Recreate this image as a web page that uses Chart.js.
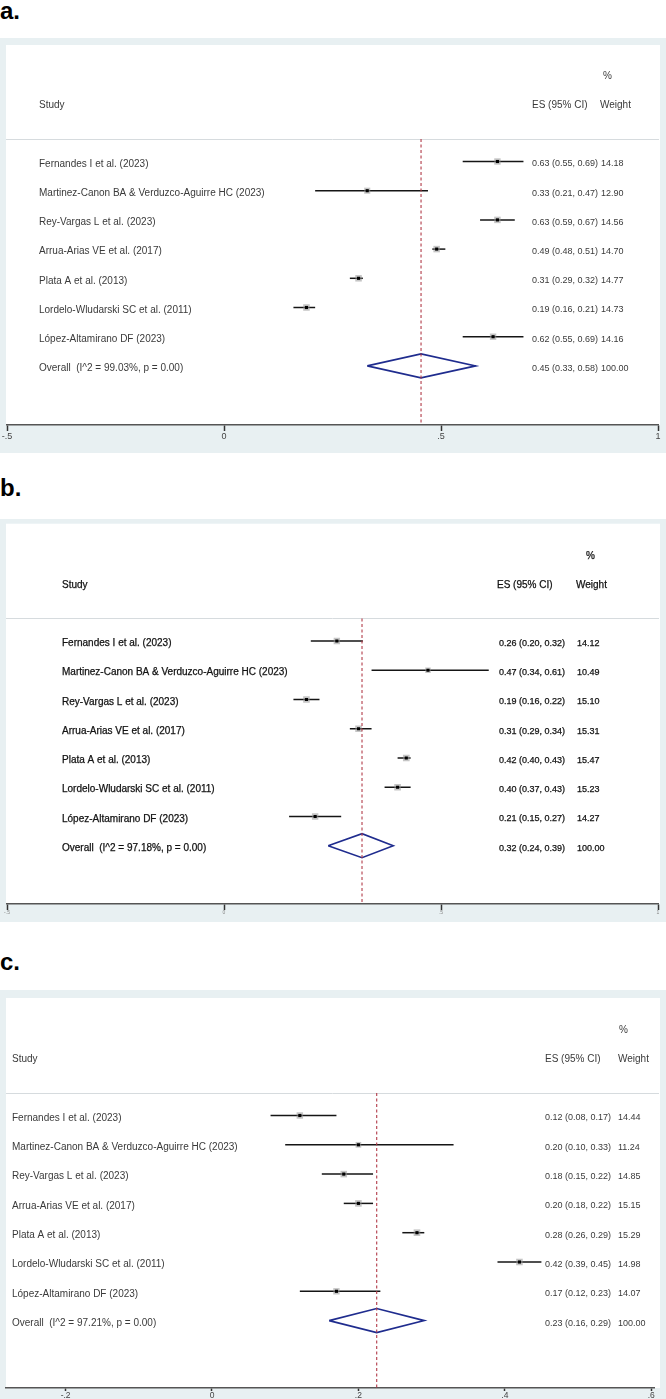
<!DOCTYPE html>
<html>
<head>
<meta charset="utf-8">
<script src="https://cdn.jsdelivr.net/npm/chart.js@4.4.0/dist/chart.umd.min.js"></script>
<style>
  body { margin: 0; width: 666px; height: 1399px; overflow: hidden; background: #fff; position: relative;
         font-family: "Liberation Sans", Arial, sans-serif; }
  .tag { position: absolute; left: 0; font-weight: bold; font-size: 24px; line-height: 24px; color: #000; }
  canvas { position: absolute; left: 0; background: #e8f0f2; }
</style>
</head>
<body>
<div class="tag" style="top:-1px">a.</div>
<canvas id="plotA"></canvas>
<div class="tag" style="top:476px">b.</div>
<canvas id="plotB"></canvas>
<div class="tag" style="top:950px">c.</div>
<canvas id="plotC"></canvas>

<script>
// Study labels (same order in all three panels)
const studies = [
  'Fernandes I et al. (2023)',
  'Martinez-Canon BA & Verduzco-Aguirre HC (2023)',
  'Rey-Vargas L et al. (2023)',
  'Arrua-Arias VE et al. (2017)',
  'Plata A et al. (2013)',
  'Lordelo-Wludarski SC et al. (2011)',
  'López-Altamirano DF (2023)'
];

// Panel a
const esA = [0.63, 0.33, 0.63, 0.49, 0.31, 0.19, 0.62];
const loA = [0.55, 0.21, 0.59, 0.48, 0.29, 0.16, 0.55];
const hiA = [0.69, 0.47, 0.67, 0.51, 0.32, 0.21, 0.69];
const weightA = [14.18, 12.90, 14.56, 14.70, 14.77, 14.73, 14.16];
const overallA = [0.454, 0.33, 0.58];
const hetA = 'I^2 = 99.03%, p = 0.00';

// Panel b
const esB = [0.26, 0.47, 0.19, 0.31, 0.42, 0.40, 0.21];
const loB = [0.20, 0.34, 0.16, 0.29, 0.40, 0.37, 0.15];
const hiB = [0.32, 0.61, 0.22, 0.34, 0.43, 0.43, 0.27];
const weightB = [14.12, 10.49, 15.10, 15.31, 15.47, 15.23, 14.27];
const overallB = [0.318, 0.24, 0.39];
const hetB = 'I^2 = 97.18%, p = 0.00';

// Panel c
const esC = [0.12, 0.20, 0.18, 0.20, 0.28, 0.42, 0.17];
const loC = [0.08, 0.10, 0.15, 0.18, 0.26, 0.39, 0.12];
const hiC = [0.17, 0.33, 0.22, 0.22, 0.29, 0.45, 0.23];
const weightC = [14.44, 11.24, 14.85, 15.15, 15.29, 14.98, 14.07];
const overallC = [0.225, 0.16, 0.29];
const hetC = 'I^2 = 97.21%, p = 0.00';

// Axis ticks
const tickValsAB = [-0.5, 0, 0.5, 1];
const tickLabelsAB = ['-.5', '0', '.5', '1'];
const tickValsC = [-0.2, 0, 0.2, 0.4, 0.6];
const tickLabelsC = ['-.2', '0', '.2', '.4', '.6'];

// Layout / style of each panel (page pixels)
const panels = [
  { id: 'plotA', es: esA, lo: loA, hi: hiA, w: weightA, overall: overallA, het: hetA,
    ticks: tickValsAB, tickLabels: tickLabelsAB, tickFont: 9, tickLen: 6, tickInk: '#444',
    frameTop: 38, frameBottom: 453, plotTop: 45, axisY: 425, row0: 161.5, step: 29.2,
    left: 7, right: 658, xMin: -0.5, xMax: 1,
    cols: { study: 39, es: 532, w: 601, pct: 603, esHead: 532, wHead: 600 }, ink: '#3a3a3a', heavy: 0 },
  { id: 'plotB', es: esB, lo: loB, hi: hiB, w: weightB, overall: overallB, het: hetB,
    ticks: tickValsAB, tickLabels: tickLabelsAB, tickFont: 5, tickLen: 6, tickInk: '#888',
    frameTop: 519, frameBottom: 922, plotTop: 523, axisY: 904, row0: 640.5, step: 29.3,
    left: 7, right: 658, xMin: -0.5, xMax: 1,
    cols: { study: 62, es: 499, w: 577, pct: 586, esHead: 497, wHead: 576 }, ink: '#111', heavy: 0.25 },
  { id: 'plotC', es: esC, lo: loC, hi: hiC, w: weightC, overall: overallC, het: hetC,
    ticks: tickValsC, tickLabels: tickLabelsC, tickFont: 8.5, tickLen: 3, tickInk: '#444',
    frameTop: 990, frameBottom: 1399, plotTop: 998, axisY: 1388, row0: 1115.5, step: 29.3,
    left: 6, right: 654, xMin: -0.2814, xMax: 0.6038,
    cols: { study: 12, es: 545, w: 618, pct: 619, esHead: 545, wHead: 618 }, ink: '#3a3a3a', heavy: 0 }
];

const SEP_ROW = -0.77;
const fmt = v => v.toFixed(2);

// Draws the white plot region, header rule and all table text
function forestPlugin(p) {
  return {
    id: 'forest_' + p.id,
    beforeDraw(chart) {
      const ctx = chart.ctx, a = chart.chartArea, y = chart.scales.y;
      ctx.save();
      ctx.fillStyle = '#fff';
      ctx.fillRect(6, a.top, chart.width - 12, a.bottom - a.top);
      const ys = Math.round(y.getPixelForValue(SEP_ROW)) + 0.5;
      ctx.strokeStyle = '#d6dbde';
      ctx.lineWidth = 1;
      ctx.beginPath();
      ctx.moveTo(6, ys);
      ctx.lineTo(chart.width - 7, ys);
      ctx.stroke();
      ctx.restore();
    },
    afterDraw(chart) {
      const ctx = chart.ctx, y = chart.scales.y, c = p.cols;
      ctx.save();
      ctx.fillStyle = p.ink;
      ctx.textBaseline = 'middle';
      const put = (txt, x, row, size) => {
        const py = y.getPixelForValue(row) + 2.5;
        ctx.font = size + 'px "Liberation Sans", Arial, sans-serif';
        if (p.heavy) {
          ctx.lineWidth = p.heavy;
          ctx.strokeStyle = p.ink;
          ctx.strokeText(txt, x, py);
        }
        ctx.fillText(txt, x, py);
      };
      put('%', c.pct, -3, 10);
      put('Study', c.study, -2, 10);
      put('ES (95% CI)', c.esHead, -2, 10);
      put('Weight', c.wHead, -2, 10);
      studies.forEach((s, i) => {
        put(s, c.study, i, 10);
        put(fmt(p.es[i]) + ' (' + fmt(p.lo[i]) + ', ' + fmt(p.hi[i]) + ')', c.es, i, 9);
        put(fmt(p.w[i]), c.w, i, 9);
      });
      const [oEs, oLo, oHi] = p.overall;
      const oRow = studies.length;
      put('Overall  (' + p.het + ')', c.study, oRow, 10);
      put(fmt(oEs) + ' (' + fmt(oLo) + ', ' + fmt(oHi) + ')', c.es, oRow, 9);
      put('100.00', c.w, oRow, 9);
      ctx.restore();
    }
  };
}

function buildChart(p) {
  const canvas = document.getElementById(p.id);
  const height = p.frameBottom - p.frameTop;
  canvas.width = 666;
  canvas.height = height;
  canvas.style.top = p.frameTop + 'px';

  const yMin = (p.plotTop - p.row0) / p.step;
  const yMax = (p.axisY - p.row0) / p.step;
  const rows = p.es.map((_, i) => i);
  const [oEs, oLo, oHi] = p.overall;
  const oRow = rows.length;

  const ciLines = rows.map(i => ({
    data: [{ x: p.lo[i], y: i }, { x: p.hi[i], y: i }],
    showLine: true, borderColor: '#151515', borderWidth: 1.5, pointRadius: 0, order: 3
  }));
  const boxes = {
    data: rows.map(i => ({ x: p.es[i], y: i })),
    pointStyle: 'rect', pointRadius: p.w.map(v => Math.sqrt(v) * 1.2),
    backgroundColor: 'rgba(150,150,150,0.55)', borderWidth: 0, order: 2
  };
  const dots = {
    data: rows.map(i => ({ x: p.es[i], y: i })),
    pointStyle: 'rect', pointRadius: 2.2, backgroundColor: '#000', borderWidth: 0, order: 1
  };
  const diamond = {
    data: [{ x: oLo, y: oRow }, { x: oEs, y: oRow - 0.41 }, { x: oHi, y: oRow },
           { x: oEs, y: oRow + 0.41 }, { x: oLo, y: oRow }],
    showLine: true, borderColor: '#1f2c8e', borderWidth: 1.6, borderJoinStyle: 'miter',
    pointRadius: 0, order: 1
  };
  const refLine = {
    data: [{ x: oEs, y: SEP_ROW }, { x: oEs, y: yMax }],
    showLine: true, borderColor: '#b23a48', borderWidth: 1.1, borderDash: [3, 2.5],
    pointRadius: 0, order: 0
  };

  return new Chart(canvas, {
    type: 'scatter',
    data: { datasets: [...ciLines, boxes, dots, diamond, refLine] },
    options: {
      responsive: false, animation: false, devicePixelRatio: 1, events: [],
      layout: { padding: { top: p.plotTop - p.frameTop, left: p.left, right: 666 - p.right, bottom: 0 } },
      plugins: { legend: { display: false }, tooltip: { enabled: false } },
      scales: {
        x: {
          type: 'linear', min: p.xMin, max: p.xMax,
          afterBuildTicks: s => { s.ticks = p.ticks.map(v => ({ value: v })); },
          afterFit: s => { s.height = p.frameBottom - p.axisY; s.paddingLeft = 0; s.paddingRight = 0; },
          ticks: {
            autoSkip: false, maxRotation: 0, padding: 0, color: p.tickInk,
            font: { size: p.tickFont, family: '"Liberation Sans", Arial, sans-serif' },
            callback: (v, i) => p.tickLabels[i]
          },
          grid: { drawOnChartArea: false, drawTicks: true, tickLength: p.tickLen, tickWidth: 1.5, tickColor: '#333' },
          border: { display: true, color: '#555', width: 1.5 }
        },
        y: { type: 'linear', display: false, reverse: true, min: yMin, max: yMax }
      }
    },
    plugins: [forestPlugin(p)]
  });
}

panels.forEach(buildChart);
</script>
</body>
</html>
